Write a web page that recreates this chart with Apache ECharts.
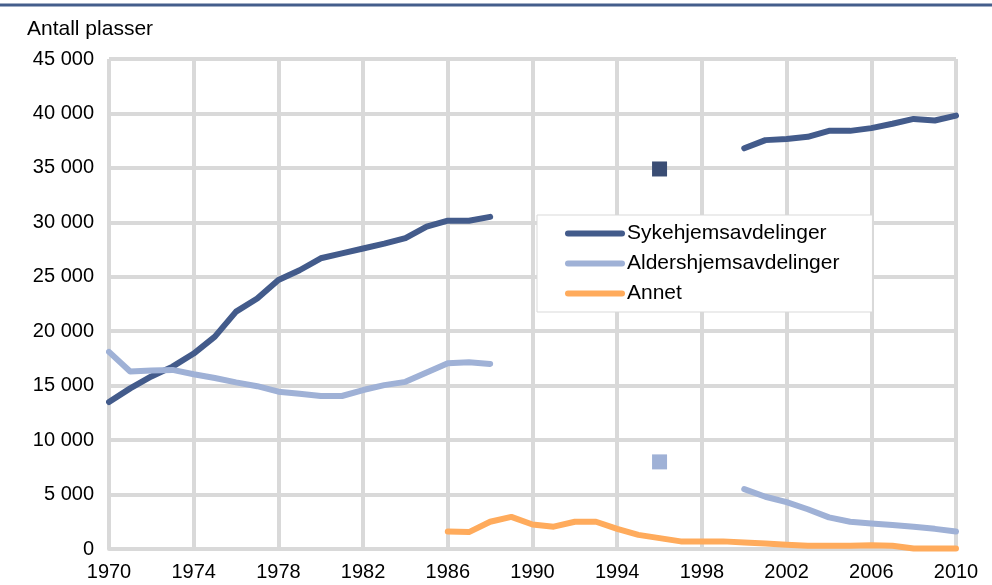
<!DOCTYPE html>
<html>
<head>
<meta charset="utf-8">
<script src="https://cdn.jsdelivr.net/npm/echarts@6/dist/echarts.min.js"></script>
<style>
  html, body { margin: 0; padding: 0; background: #fff; }
  #chart { width: 992px; height: 585px; }
</style>
</head>
<body>
<div id="chart"></div>
<script>
// år 1970-2010, hull der statistikken mangler
const years = [];
for (let y = 1970; y <= 2010; y++) years.push(String(y));

const sykehjem = [13500, 14750, 15850, 16750, 17950, 19500, 21800, 23000, 24700, 25600,
  26700, 27150, 27600, 28050, 28550, 29600, 30150, 30150, 30500,
  null, null, null, null, null, null, null, 34900, null, null, null,
  36800, 37550, 37650, 37850, 38400, 38400, 38650, 39050, 39500, 39350, 39800];

const aldershjem = [18100, 16300, 16400, 16450, 16050, 15700, 15300, 14950, 14450, 14250,
  14050, 14050, 14600, 15050, 15350, 16200, 17050, 17150, 17000,
  null, null, null, null, null, null, null, 8000, null, null, null,
  5500, 4800, 4300, 3650, 2900, 2500, 2350, 2200, 2050, 1850, 1600];

const annet = [null, null, null, null, null, null, null, null, null, null,
  null, null, null, null, null, null, 1600, 1550, 2500, 2950,
  2250, 2050, 2500, 2500, 1850, 1300, 1000, 700, 700, 700,
  600, 500, 400, 300, 300, 300, 350, 300, 50, 50, 50];

const yTicks = [0, 5000, 10000, 15000, 20000, 25000, 30000, 35000, 40000, 45000];

const colors = ['#435b8b', '#9fb1d6', '#ffab5c'];
const markerColors = ['#3a4d74', '#9fb1d6', '#ffab5c'];

// enkeltstående punkter vises som firkant
function withMarkers(arr, idx) {
  return arr.map((v, i) => {
    const lone = v != null && arr[i - 1] == null && arr[i + 1] == null;
    if (!lone) return v;
    return { value: v, symbol: 'rect', symbolSize: 15, itemStyle: { color: markerColors[idx] } };
  });
}

const font = 'Liberation Sans, Arial, sans-serif';
const capsule = 'path://M3,0 L57,0 A3,3 0 0 1 57,6 L3,6 A3,3 0 0 1 3,0 Z';

const chart = echarts.init(document.getElementById('chart'));
chart.setOption({
  animation: false,
  textStyle: { fontFamily: font },
  graphic: [{
    type: 'line',
    shape: { x1: 0, y1: 5, x2: 992, y2: 5 },
    style: { stroke: '#445e8c', lineWidth: 3 }
  }],
  title: {
    text: 'Antall plasser',
    left: 22,
    top: 14,
    textStyle: { fontSize: 21, fontWeight: 'normal', color: '#000', fontFamily: font }
  },
  legend: {
    orient: 'vertical',
    left: 537,
    top: 215,
    padding: [8, 33, 8, 28],
    itemGap: 9,
    itemWidth: 60,
    itemHeight: 7,
    icon: capsule,
    backgroundColor: '#fff',
    borderColor: '#d9d9d9',
    borderWidth: 1,
    textStyle: { fontSize: 21, color: '#000', fontFamily: font, padding: [0, 0, 0, -3] }
  },
  grid: { left: 109, right: 36, top: 59, bottom: 36 },
  xAxis: {
    type: 'category',
    data: years,
    boundaryGap: false,
    axisLine: { show: true, lineStyle: { color: '#d9d9d9', width: 4 } },
    axisTick: { show: false },
    axisLabel: { interval: 3, fontSize: 20, color: '#000', margin: 13, fontFamily: font },
    splitLine: { show: true, interval: 3, lineStyle: { color: '#d9d9d9', width: 4 } }
  },
  yAxis: {
    type: 'value',
    min: 0,
    max: 45000,
    interval: 5000,
    axisLine: { show: false },
    axisTick: { show: false },
    axisLabel: {
      fontSize: 20, color: '#000', margin: 15, fontFamily: font,
      formatter: v => yTicks.includes(v) ? String(v).replace(/\B(?=(\d{3})+(?!\d))/g, ' ') : ''
    },
    splitLine: { show: true, lineStyle: { color: '#d9d9d9', width: 4 } }
  },
  series: [
    {
      name: 'Sykehjemsavdelinger',
      type: 'line',
      data: withMarkers(sykehjem, 0),
      symbol: 'none',
      showAllSymbol: true,
      connectNulls: false,
      lineStyle: { color: colors[0], width: 6, cap: 'round', join: 'round' },
      itemStyle: { color: colors[0] }
    },
    {
      name: 'Aldershjemsavdelinger',
      type: 'line',
      data: withMarkers(aldershjem, 1),
      symbol: 'none',
      showAllSymbol: true,
      connectNulls: false,
      lineStyle: { color: colors[1], width: 6, cap: 'round', join: 'round' },
      itemStyle: { color: colors[1] }
    },
    {
      name: 'Annet',
      type: 'line',
      data: withMarkers(annet, 2),
      symbol: 'none',
      showAllSymbol: true,
      connectNulls: false,
      lineStyle: { color: colors[2], width: 6, cap: 'round', join: 'round' },
      itemStyle: { color: colors[2] }
    }
  ]
});
</script>
</body>
</html>
